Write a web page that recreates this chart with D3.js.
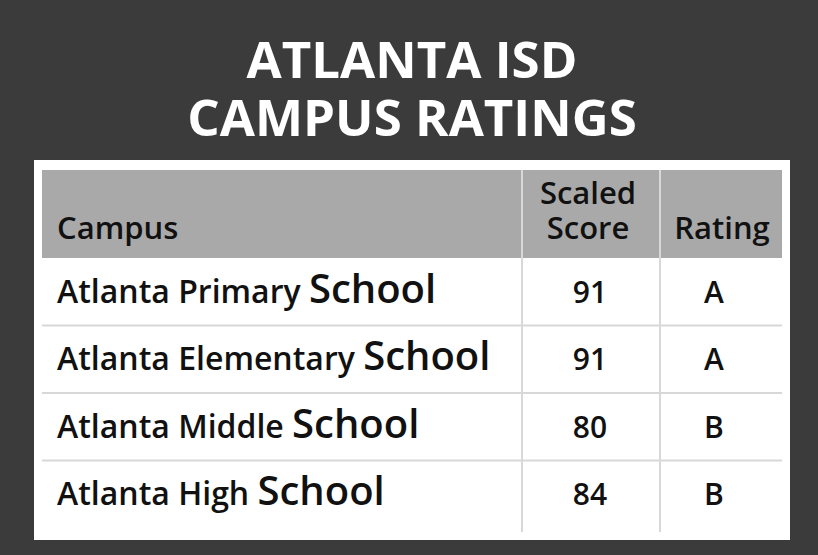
<!DOCTYPE html>
<html><head><meta charset="utf-8">
<script src="https://cdn.jsdelivr.net/npm/d3@7"></script>
<style>body{margin:0;background:#3b3b3b}</style>
</head><body><div id="chart"></div>
<script>
// table data
const titleLines = ['ATLANTA ISD', 'CAMPUS RATINGS'];
const campuses = ['Atlanta Primary', 'Atlanta Elementary', 'Atlanta Middle', 'Atlanta High'];
const scores = [91, 91, 80, 84];
const ratings = ['A', 'A', 'B', 'B'];

const W = 818, H = 555;
const font = "'Open Sans', sans-serif";

const svg = d3.select('#chart').append('svg')
  .attr('width', W).attr('height', H);

svg.append('rect').attr('width', W).attr('height', H).attr('fill', '#3b3b3b');

svg.selectAll('.title').data(titleLines).enter().append('text')
  .attr('x', 412).attr('y', (d, i) => 78 + i * 58)
  .attr('text-anchor', 'middle').attr('fill', '#fff')
  .attr('font-family', font).attr('font-weight', 700).attr('font-size', 51)
  .text(d => d);

// white panel
svg.append('rect').attr('x', 34).attr('y', 160).attr('width', 756).attr('height', 380).attr('fill', '#fff');

const colX = [42, 522, 660, 782];
const headerTop = 170, headerBottom = 258;

svg.append('rect').attr('x', colX[0]).attr('y', headerTop)
  .attr('width', colX[3] - colX[0]).attr('height', headerBottom - headerTop).attr('fill', '#a9a9a9');

const y = d3.scaleBand().domain(d3.range(campuses.length)).range([headerBottom, 528]);

// grid lines
svg.selectAll('.hline').data(d3.range(1, campuses.length)).enter().append('line')
  .attr('x1', colX[0]).attr('x2', colX[3])
  .attr('y1', d => y(d)).attr('y2', d => y(d))
  .attr('stroke', '#d8d8d8').attr('stroke-width', 2);
svg.selectAll('.vline').data([colX[1], colX[2]]).enter().append('line')
  .attr('x1', d => d).attr('x2', d => d)
  .attr('y1', headerTop).attr('y2', 532)
  .attr('stroke', '#d8d8d8').attr('stroke-width', 2);

// header
const hdr = svg.append('g').attr('font-family', font).attr('font-size', 31)
  .attr('font-weight', 600).attr('fill', '#111');
hdr.append('text').attr('x', 57).attr('y', 239).text('Campus');
hdr.append('text').attr('x', 588).attr('y', 204).attr('text-anchor', 'middle').text('Scaled');
hdr.append('text').attr('x', 588).attr('y', 239).attr('text-anchor', 'middle').text('Score');
hdr.append('text').attr('x', 722).attr('y', 239).attr('text-anchor', 'middle').text('Rating');

// rows
const rows = svg.selectAll('.row').data(campuses).enter().append('g')
  .attr('transform', (d, i) => `translate(0,${y(i) + y.bandwidth() / 2 + 11})`)
  .attr('font-family', font).attr('fill', '#111').attr('font-weight', 600);

const name = rows.append('text').attr('x', 57).attr('font-size', 32);
name.append('tspan').text(d => d + ' ');
name.append('tspan').attr('font-size', 40).text('School');

rows.append('text').attr('x', 590).attr('text-anchor', 'middle').attr('font-size', 30)
  .text((d, i) => scores[i]);
rows.append('text').attr('x', 714).attr('text-anchor', 'middle').attr('font-size', 30)
  .text((d, i) => ratings[i]);
</script>
</body></html>
